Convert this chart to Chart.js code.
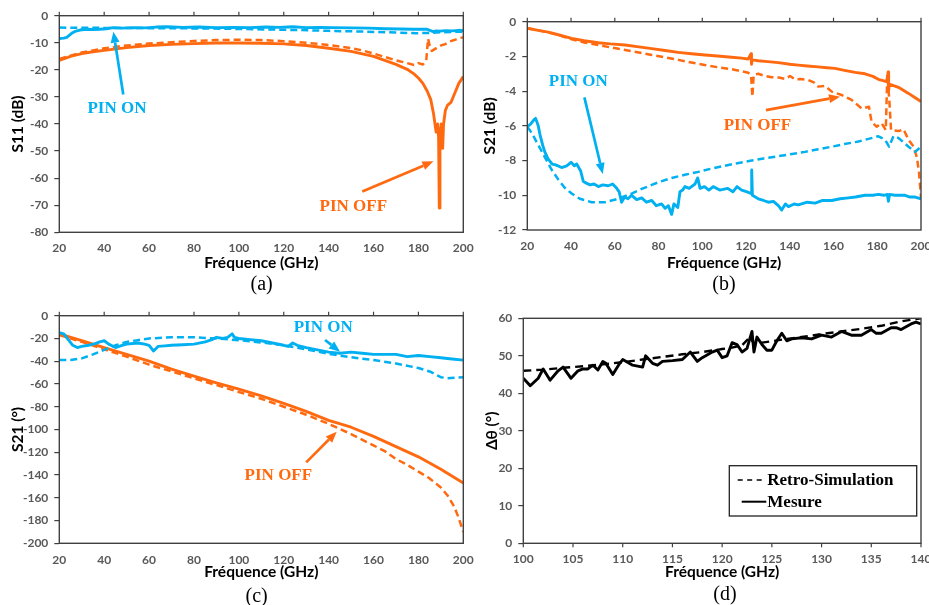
<!DOCTYPE html>
<html><head><meta charset="utf-8">
<script src="https://cdn.jsdelivr.net/npm/chart.js@4/dist/chart.umd.min.js"></script>
<style>
html,body{margin:0;padding:0;background:#fff}
body{width:929px;height:605px;position:relative;overflow:hidden}
.p{position:absolute}
.cap{position:absolute;font:20px "Liberation Serif","Times New Roman",serif;color:#000;transform:translate(-50%,-50%);white-space:nowrap}
</style></head>
<body>
<div class="p" style="left:0;top:0;width:480px;height:300px"><canvas id="ca"></canvas></div>
<div class="p" style="left:465px;top:0;width:464px;height:300px"><canvas id="cb"></canvas></div>
<div class="p" style="left:0;top:300px;width:480px;height:305px"><canvas id="cc"></canvas></div>
<div class="p" style="left:465px;top:300px;width:464px;height:305px"><canvas id="cd"></canvas></div>
<div class="cap" style="left:261.7px;top:283px">(a)</div>
<div class="cap" style="left:724px;top:283px">(b)</div>
<div class="cap" style="left:256.7px;top:595px">(c)</div>
<div class="cap" style="left:725px;top:593px">(d)</div>
<script>
// ---------- Panel (a) : S11 (dB) ----------
const aOnMeasF = [20,22,23.3,25.5,27,29.2,32,35,38,41,44,48,53,58,63,68,75,82,90,97.5,105,112,118,124,130,136,142,150,158,165,171.8,178,183.6,186.6,188,189.6,192,195,198,200];
const aOnMeasY = [-8.4,-8.3,-8.0,-6.5,-5.8,-5.3,-5.0,-5.1,-5.0,-4.8,-4.4,-4.6,-4.4,-4.5,-4.2,-4.1,-4.3,-4.2,-4.4,-4.3,-4.4,-4.2,-4.3,-4.1,-4.4,-4.3,-4.4,-4.5,-4.6,-4.8,-4.9,-5.0,-5.0,-5.9,-5.6,-5.7,-5.5,-5.6,-5.4,-5.5];
const aOnSimF = [20,40,60,82.7,100,127,140,157,170,179,183,186.6,190,195,200];
const aOnSimY = [-4.4,-4.5,-4.6,-4.7,-4.9,-5.3,-5.6,-5.9,-6.2,-6.5,-6.4,-6.3,-6.1,-6.0,-5.9];
const aOffSimF = [20,25,30,35,40,50,60,70,80,90,100,110,120,130,140,150,155,160,165,170,175,178,180,182,183.5,184.3,185,186,188,190,192,194,196,198,200];
const aOffSimY = [-16,-14.8,-13.6,-12.8,-12,-11,-10.3,-9.8,-9.3,-9.0,-8.9,-9.0,-9.4,-10,-10.8,-12,-12.8,-14,-15.2,-16.5,-17.5,-18.2,-17.5,-18,-16.5,-8.5,-11,-13,-12,-11,-10.5,-9.5,-9,-8.3,-8];
const aOffMeasF = [20,25,30,35,40,50,60,70,80,90,100,110,120,130,140,150,160,165,170,175,178,180,182,184,185.5,186.7,187.9,188.6,189.0,189.3,189.6,190.2,190.8,191.2,192,193,194.5,196,198,200];
const aOffMeasY = [-16.5,-15,-14,-13.3,-12.8,-11.8,-11,-10.6,-10.3,-10.1,-10.1,-10.2,-10.4,-11,-12,-13.2,-15,-16.5,-18,-19.8,-21.5,-23,-25,-28,-31,-36,-43,-40,-45,-71,-45,-40,-49,-40,-35,-33,-32,-29,-25,-22.5];

// ---------- Panel (b) : S21 (dB) ----------
const bOffMeasF = [20,25,29.6,35,40.3,46,52.5,58,64.7,71,76.9,83,89,95,101.2,107,113.4,118,121,122.3,122.5,122.8,125.6,130,134.8,140,143.9,148,153,157,160.7,165,169.9,174.4,178,180.5,184.3,185.0,185.2,185.5,189.7,194.3,197,200];
const bOffMeasY = [-0.38,-0.5,-0.6,-0.78,-0.96,-1.1,-1.21,-1.28,-1.34,-1.45,-1.55,-1.66,-1.77,-1.85,-1.92,-1.98,-2.05,-2.1,-2.15,-1.85,-2.45,-2.2,-2.25,-2.3,-2.36,-2.45,-2.5,-2.55,-2.6,-2.65,-2.69,-2.8,-2.92,-3.0,-3.15,-3.32,-3.45,-2.9,-3.95,-3.6,-3.78,-4.13,-4.35,-4.6];
const bOffSimF = [20,25,29.6,35,40.3,46,52.5,58,64.7,71,76.9,83,89,95,101.2,107,113.4,118,121,122.3,122.9,123.5,125.6,128,131.7,135,137.8,140.1,142.4,145,148.5,151,153,156.1,159.2,163.7,168.3,172.9,176.2,177.4,179.7,182,183.9,184.6,185.5,186.3,189.7,192,194.3,196.6,198.1,199.1,200];
const bOffSimY = [-0.38,-0.5,-0.61,-0.8,-1.02,-1.2,-1.34,-1.48,-1.63,-1.78,-1.92,-2.06,-2.2,-2.35,-2.5,-2.62,-2.74,-2.85,-2.94,-3.07,-4.32,-3.07,-3.0,-3.1,-3.2,-3.22,-3.3,-3.13,-3.32,-3.3,-3.36,-3.5,-3.74,-3.7,-4.03,-4.22,-4.51,-5.0,-4.9,-5.76,-6.05,-5.85,-6.24,-3.07,-4.5,-6.24,-6.3,-6.2,-6.8,-7.2,-7.8,-8.7,-10.1];
const bOnSimF = [20,22,25,28,31,34.2,37,40.3,44,49.4,55.5,61.6,67.7,72,76.9,81,86,92,98.2,104,110.4,116,122.6,128,134.8,141,147,153,159.2,165,171.4,176,180.5,183.6,185.4,187.4,189.7,192,194.3,197.3,200];
const bOnSimY = [-6.05,-6.4,-7.1,-7.8,-8.5,-9.1,-9.55,-9.9,-10.2,-10.4,-10.4,-10.2,-9.9,-9.65,-9.4,-9.2,-9.0,-8.82,-8.65,-8.47,-8.3,-8.15,-8.0,-7.88,-7.75,-7.62,-7.5,-7.35,-7.2,-7.05,-6.9,-6.75,-6.6,-6.8,-7.2,-6.6,-6.7,-6.95,-7.2,-7.5,-7.2];
const bOnMeasF = [20,21.5,23,23.8,25,25.8,27,28,29.5,31.4,33,35.7,38,40,41.5,42.6,44.4,45.6,47,48.7,50.5,52.5,54.5,57,59,60.9,62,63.1,64.5,66,67.7,70,72.3,74.5,76.9,79,81.4,83,84.5,86,87,88.8,89.8,91,92.1,94,96.7,97.9,99,101,103,105,108,111.6,114,115.9,118,120.5,122.3,122.6,122.9,125.6,128,130.2,132.5,134.8,136.3,138,139.4,142,143.9,148,151.6,155,159.2,163,166.8,170,174.4,178,180.5,183,184.6,185.1,185.6,188,192.7,195,197.3,200];
const bOnMeasY = [-6.05,-5.9,-5.65,-5.57,-6.0,-6.5,-7.1,-7.5,-7.9,-8.2,-8.25,-8.4,-8.3,-8.1,-8.3,-8.2,-8.6,-9.2,-9.3,-9.4,-9.35,-9.5,-9.4,-9.45,-9.35,-9.6,-9.8,-10.4,-10.1,-10.2,-10.0,-10.25,-10.15,-10.4,-10.3,-10.6,-10.5,-10.75,-10.6,-11.1,-10.5,-10.7,-9.8,-9.7,-9.5,-9.6,-9.35,-9.0,-9.6,-9.5,-9.7,-9.5,-9.7,-9.6,-9.8,-9.5,-9.7,-9.8,-9.9,-8.54,-10.0,-10.2,-10.3,-10.4,-10.35,-10.6,-10.85,-10.5,-10.65,-10.5,-10.55,-10.4,-10.45,-10.3,-10.3,-10.2,-10.15,-10.1,-10.0,-10.0,-9.95,-10.0,-9.95,-10.35,-9.95,-10.0,-10.0,-10.1,-10.1,-10.2];

// ---------- Panel (c) : S21 (°) ----------
const cOnMeasF = [20,22,24,26,28,30,33,36,38,40,42,45,48,50,55,58,60,62,64,67,70,75,80,85,88,90,93,95,97,98,100,105,110,115,120,122,124,126,130,135,140,145,150,155,160,165,170,175,180,185,190,195,200];
const cOnMeasY = [-15,-16,-21,-26,-28,-27,-26,-24.5,-23,-22,-25,-28,-26,-25,-24,-25,-26,-31,-27,-26.5,-26,-25.5,-25,-23,-21,-19,-20,-19,-16,-19,-20,-21,-22,-24,-26,-27,-24,-26,-28,-30,-32,-33,-32,-33,-34,-34,-34,-36,-35,-36,-37,-38,-39];
const cOnSimF = [20,25,30,35,40,45,50,55,60,70,80,85,90,100,110,120,130,140,150,160,170,180,185,190,193,196,200];
const cOnSimY = [-39,-39,-37.5,-34,-30,-26,-23,-21.5,-20,-19,-19,-19.5,-20,-21.5,-23.5,-26,-29.5,-33.5,-36.5,-39,-42,-46,-49,-54,-55,-54.5,-54];
const cOffMeasF = [20,30,40,50,60,70,80,90,100,110,120,130,140,150,160,170,180,190,200];
const cOffMeasY = [-16,-22,-28,-34,-40,-47,-53,-59,-64.5,-70.5,-77,-84,-92,-98,-106,-115,-124,-135,-147];
const cOffSimF = [20,30,40,50,60,70,80,90,100,110,120,130,140,150,160,165,170,175,180,185,190,193,196,198,200];
const cOffSimY = [-17,-23,-29.5,-36,-43,-49,-55,-61,-67,-73,-80,-87,-95,-104,-114,-119,-126,-131,-137,-143,-151,-158,-168,-178,-190];

// ---------- Panel (d) : Δθ (°) ----------
const dSimF = [100,102,104,106,108,110,112,114,116,118,120,121,122,122.8,123.2,124,126,128,130,132,134,136,138,140];
const dSimY = [46,46.3,46.8,47.2,47.7,48.3,49,49.7,50.4,51,51.8,52.2,52.8,55,53.2,53.5,54.3,55,55.8,56.5,57.2,58,59.2,60];
const dMeasF = [100,100.7,101.5,102,102.7,103.5,104,104.8,105.5,106,106.5,107,107.5,108,108.3,109,109.7,110,111,112,112.3,113,113.5,114,115,116,116.8,117.5,118,119,119.5,120,120.5,121,121.5,122,122.5,123,123.2,123.5,124,124.5,125,125.5,126,126.5,127,128,129,130,131,132,133,134,135,135.5,136,137,137.5,138,139,139.5,140];
const dMeasY = [44,42,44,46.5,43.5,46,47,44,46,46.5,46.5,47.5,46.2,48.5,48,45,48,49,47.5,47,50,48,47.5,48.5,48.7,49,51,48.5,49.5,51,51.5,49.5,50,53.5,53,51,52,56.5,51,55,53,51.5,51.5,54,56,54,54.5,54.8,54.5,55.5,55,56.5,55.5,55.5,57,56,56,57.5,57.5,57,58.5,59,58.5];

// ---------- Annotation texts & arrows (data coordinates) ----------
const BLUE = '#00B0F0', ORANGE = '#FF6A10';
const notesA = [{text:'PIN ON', x:45.7, y:-34.2, c:BLUE}, {text:'PIN OFF', x:151, y:-70.5, c:ORANGE}];
const arrowsA = [{x0:48.5,y0:-29.1,x1:44.1,y1:-5.9,c:BLUE}, {x0:155,y0:-64.9,x1:186.7,y1:-53.8,c:ORANGE}];
const notesB = [{text:'PIN ON', x:43.3, y:-3.46, c:BLUE}, {text:'PIN OFF', x:125.2, y:-6.01, c:ORANGE}];
const arrowsB = [{x0:46.1,y0:-4.36,x1:54.5,y1:-8.77,c:BLUE}, {x0:129.1,y0:-5.09,x1:163,y1:-4.32,c:ORANGE}];
const notesC = [{text:'PIN ON', x:137.6, y:-10.2, c:BLUE}, {text:'PIN OFF', x:117.6, y:-140.6, c:ORANGE}];
const arrowsC = [{x0:138.4,y0:-21.4,x1:145.1,y1:-31.6,c:BLUE}, {x0:130,y0:-128.9,x1:143.6,y1:-102,c:ORANGE}];

function zip(xs, ys){ return xs.map((x,i)=>({x:x, y:ys[i]})); }
function ser(label, xs, ys, color, dashed){
  return {label:label, data:zip(xs,ys), borderColor:color, backgroundColor:color,
    borderWidth: dashed?2.5:2.9, borderDash: dashed?[7,4]:[], pointRadius:0, tension:0, fill:false,
    borderJoinStyle:'round'};
}

function framePlugin(edge){
  return {id:'frame', afterDatasetsDraw(chart){
    const ctx=chart.ctx, a=chart.chartArea, x=chart.scales.x;
    ctx.save();
    ctx.strokeStyle='#404040'; ctx.lineWidth=1.4;
    ctx.strokeRect(a.left, a.top, a.right-a.left, a.bottom-a.top);
    ctx.lineWidth=1.2;
    x.ticks.forEach(t=>{
      const px=x.getPixelForValue(t.value);
      const y0 = edge==='top'?a.top:a.bottom;
      ctx.beginPath(); ctx.moveTo(px,y0); ctx.lineTo(px, y0 + (edge==='top'?-4:4)); ctx.stroke();
    });
    ctx.restore();
  }};
}
function notesPlugin(notes, arrows){
  return {id:'notes', afterDraw(chart){
    const ctx=chart.ctx, x=chart.scales.x, y=chart.scales.y;
    ctx.save();
    (arrows||[]).forEach(r=>{
      const x0=x.getPixelForValue(r.x0), y0=y.getPixelForValue(r.y0);
      const x1=x.getPixelForValue(r.x1), y1=y.getPixelForValue(r.y1);
      const ang=Math.atan2(y1-y0,x1-x0), L=11, W=4.5;
      const bx=x1-L*Math.cos(ang), by=y1-L*Math.sin(ang);
      ctx.strokeStyle=r.c; ctx.fillStyle=r.c; ctx.lineWidth=2.7;
      ctx.beginPath(); ctx.moveTo(x0,y0); ctx.lineTo(bx,by); ctx.stroke();
      ctx.beginPath(); ctx.moveTo(x1,y1);
      ctx.lineTo(bx+W*Math.sin(ang), by-W*Math.cos(ang));
      ctx.lineTo(bx-W*Math.sin(ang), by+W*Math.cos(ang));
      ctx.closePath(); ctx.fill();
    });
    (notes||[]).forEach(n=>{
      ctx.font='bold 17px "Liberation Serif","Times New Roman",serif';
      ctx.fillStyle=n.c; ctx.textAlign='center'; ctx.textBaseline='middle';
      ctx.fillText(n.text, x.getPixelForValue(n.x), y.getPixelForValue(n.y));
    });
    ctx.restore();
  }};
}
function legendPlugin(){
  return {id:'boxlegend', afterDraw(chart){
    const ctx=chart.ctx, a=chart.chartArea;
    const w=187.4, h=50.3;
    const bx=a.right-4.3-w, by=a.bottom-27.3-h;
    ctx.save();
    ctx.fillStyle='#fff'; ctx.fillRect(bx,by,w,h);
    ctx.strokeStyle='#222'; ctx.lineWidth=1.3; ctx.strokeRect(bx,by,w,h);
    const rows=[14.3,36];
    chart.data.datasets.forEach((ds,i)=>{
      const ry=by+rows[i];
      ctx.strokeStyle='#000';
      if (ds.borderDash && ds.borderDash.length){ ctx.setLineDash([5,4.5]); ctx.lineWidth=1.6; ctx.beginPath(); ctx.moveTo(bx+8.4,ry); ctx.lineTo(bx+36,ry); ctx.stroke(); }
      else { ctx.setLineDash([]); ctx.lineWidth=2; ctx.beginPath(); ctx.moveTo(bx+12.4,ry); ctx.lineTo(bx+37,ry); ctx.stroke(); }
      ctx.setLineDash([]);
      ctx.fillStyle='#000'; ctx.font='bold 17px "Liberation Serif","Times New Roman",serif';
      ctx.textAlign='left'; ctx.textBaseline='middle';
      ctx.fillText(ds.label, bx+38, ry+1);
    });
    ctx.restore();
  }};
}

const tickFont={family:'Lato', weight:'bold', size:12};
const titleFont={family:'Lato', weight:'bold', size:15.5};
function build(id, c){
  return new Chart(document.getElementById(id), {
    type:'line',
    data:{datasets:c.datasets},
    options:{
      responsive:true, maintainAspectRatio:false, animation:false, devicePixelRatio:1,
      layout:{padding:{left:0,right:c.padR,top:c.padT,bottom:0}},
      plugins:{legend:{display:false}, tooltip:{enabled:false}},
      scales:{
        x:{type:'linear', min:c.xmin, max:c.xmax,
          ticks:{stepSize:c.xstep, padding:c.xTickPad, color:'#595959', font:tickFont, maxRotation:0, autoSkip:false},
          grid:{display:false, drawTicks:false}, border:{display:false},
          title:{display:true, text:'Fréquence (GHz)', color:'#000', font:titleFont, padding:{top:0,bottom:c.xTitlePad}},
          afterFit(s){ s.height=c.xH; s.paddingLeft=0; s.paddingRight=0; }},
        y:{type:'linear', min:c.ymin, max:c.ymax,
          ticks:{stepSize:c.ystep, padding:6, color:'#595959', font:tickFont},
          grid:{display:true, drawOnChartArea:false, drawTicks:true, tickLength:5, color:'#404040', lineWidth:1.2},
          border:{display:false},
          title:{display:true, text:c.yTitle, color:'#000', font:titleFont, padding:{top:c.yTitlePad,bottom:0}},
          afterFit(s){ s.width=c.yW; s.paddingTop=0; s.paddingBottom=0; }}
      }
    },
    plugins:[framePlugin(c.edge)].concat(c.extra||[])
  });
}

build('ca', {
  datasets:[
    ser('PIN ON simulation', aOnSimF, aOnSimY, BLUE, true),
    ser('PIN ON mesure', aOnMeasF, aOnMeasY, BLUE, false),
    ser('PIN OFF simulation', aOffSimF, aOffSimY, ORANGE, true),
    ser('PIN OFF mesure', aOffMeasF, aOffMeasY, ORANGE, false)
  ],
  xmin:20,xmax:200,xstep:20, ymin:-80,ymax:0,ystep:10, yTitle:'S11 (dB)',
  padT:15.7, padR:16.7, yW:59.3, xH:67.7, xTickPad:8.8, xTitlePad:27.4, yTitlePad:8.7, edge:'top',
  extra:[notesPlugin(notesA, arrowsA)]
});
build('cb', {
  datasets:[
    ser('PIN ON simulation', bOnSimF, bOnSimY, BLUE, true),
    ser('PIN ON mesure', bOnMeasF, bOnMeasY, BLUE, false),
    ser('PIN OFF simulation', bOffSimF, bOffSimY, ORANGE, true),
    ser('PIN OFF mesure', bOffMeasF, bOffMeasY, ORANGE, false)
  ],
  xmin:20,xmax:200,xstep:20, ymin:-12,ymax:0,ystep:2, yTitle:'S21 (dB)',
  padT:21.7, padR:8, yW:62.3, xH:70, xTickPad:8.5, xTitlePad:27.4, yTitlePad:15.7, edge:'top',
  extra:[notesPlugin(notesB, arrowsB)]
});
build('cc', {
  datasets:[
    ser('PIN ON simulation', cOnSimF, cOnSimY, BLUE, true),
    ser('PIN ON mesure', cOnMeasF, cOnMeasY, BLUE, false),
    ser('PIN OFF simulation', cOffSimF, cOffSimY, ORANGE, true),
    ser('PIN OFF mesure', cOffMeasF, cOffMeasY, ORANGE, false)
  ],
  xmin:20,xmax:200,xstep:20, ymin:-200,ymax:0,ystep:20, yTitle:'S21 (°)',
  padT:15.7, padR:16.7, yW:59.3, xH:61.7, xTickPad:9.5, xTitlePad:24, yTitlePad:9, edge:'top',
  extra:[notesPlugin(notesC, arrowsC)]
});
build('cd', {
  datasets:[
    Object.assign(ser('Retro-Simulation', dSimF, dSimY, '#000', true), {borderDash:[8,5], borderWidth:2.4}),
    ser('Mesure', dMeasF, dMeasY, '#000', false)
  ],
  xmin:100,xmax:140,xstep:5, ymin:0,ymax:60,ystep:10, yTitle:'Δθ (°)',
  padT:18.3, padR:8, yW:58.3, xH:61.7, xTickPad:8.5, xTitlePad:24, yTitlePad:17.4, edge:'bottom',
  extra:[legendPlugin()]
});
</script>
</body></html>
